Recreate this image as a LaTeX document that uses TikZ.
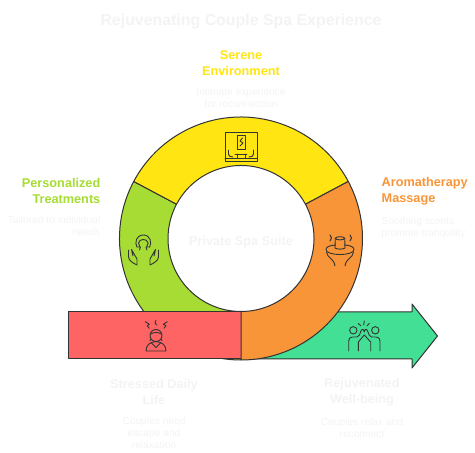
\documentclass[tikz,border=0pt]{standalone}
\usepackage{fontspec}
\setmainfont{Liberation Sans}
\usetikzlibrary{positioning}
\definecolor{amareloSerene}{RGB}{255,229,17}
\definecolor{verdeTreat}{RGB}{166,220,51}
\definecolor{laranjaAroma}{RGB}{248,149,56}
\definecolor{vermelhoStress}{RGB}{255,100,100}
\definecolor{verdeWell}{RGB}{67,223,148}
\definecolor{linhaEscura}{RGB}{51,51,51}
\definecolor{textoClaro}{RGB}{243,243,243}
\newcommand{\ringseg}[3]{%
    \draw[seg, fill=#3] (#1:121.5pt) arc[start angle=#1, end angle=#2, radius=121.5pt]
        -- (#2:73pt) arc[start angle=#2, end angle=#1, radius=73pt] -- cycle;}

\begin{document}
\begin{tikzpicture}[
    x=1pt, y=1pt,
    seg/.style={draw=linhaEscura, line width=1pt, line join=round},
    icon/.style={draw=linhaEscura, line width=0.9pt, line cap=round, line join=round},
    flip/.style={shift={(0,453)}, yscale=-1},
    title/.style={inner sep=0pt, font=\fontsize{15.9}{20}\selectfont\bfseries, text=textoClaro},
    head/.style={inner sep=0pt, align=#1, font=\fontsize{12.7}{16}\selectfont\bfseries},
    desc/.style={inner sep=0pt, align=#1, font=\fontsize{10.2}{12}\selectfont, text=textoClaro}
]
    \useasboundingbox (0,0) rectangle (475,453);

    % Seta e barra
    \draw[seg, fill=verdeWell] (241,141) -- (412,141) -- (412,149) -- (437.5,117) -- (412,85) -- (412,94) -- (241,94) -- cycle;
    \begin{scope}[shift={(241,214.5)}]
        \ringseg{152}{270}{verdeTreat}
        \ringseg{28}{152}{amareloSerene}
    \end{scope}
    \draw[seg, fill=vermelhoStress] (68.5,94) rectangle (241,141);
    \begin{scope}[shift={(241,214.5)}]
        \ringseg{-90}{28}{laranjaAroma}
    \end{scope}

    % Textos
    \node[title] (titulo) at (241,431.5) {Rejuvenating Couple Spa Experience};
    \node[inner sep=0pt, font=\fontsize{12.7}{15}\selectfont\bfseries, text=textoClaro] (suite) at (241,210.5) {Private Spa Suite};

    \node[head=center, text=amareloSerene] (serene) at (241,390) {Serene\\Environment};
    \node[desc=center, below=12pt of serene] (sereneDesc) {Intimate experience\\for reconnection};

    \node[head=right, text=verdeTreat, anchor=east] (treat) at (100.5,262) {Personalized\\Treatments};
    \node[desc=right, below=12pt of treat.south east, anchor=north east] (treatDesc) {Tailored to individual\\needs};

    \node[head=left, text=laranjaAroma, anchor=west] (aroma) at (381.5,262) {Aromatherapy\\Massage};
    \node[desc=left, below=12pt of aroma.south west, anchor=north west] (aromaDesc) {Soothing scents\\promote tranquility};

    \node[head=center, text=textoClaro] (stress) at (154,61) {Stressed Daily\\Life};
    \node[desc=center, below=12pt of stress] (stressDesc) {Couples need\\escape and\\relaxation};

    \node[head=center, text=textoClaro] (well) at (362,61) {Rejuvenated\\Well-being};
    \node[desc=center, below=12pt of well] (wellDesc) {Couples relax and\\reconnect};

    % Icones
    \begin{scope}[flip]
        % quadro e banco
        \draw[icon] (225,132.5) rectangle (257,161);
        \draw[icon] (225,158) -- (257,158);
        \draw[icon] (237,135) rectangle (245.5,149);
        \draw[icon] (242.5,138) -- (240,141) -- (243,143) -- (240,146);
        \draw[icon] (228.5,150) -- (228.5,154) .. controls (228.5,156) and (230,157) .. (233,157);
        \draw[icon] (253.5,150) -- (253.5,154) .. controls (253.5,156) and (252,157) .. (249,157);
        \draw[icon] (235,154) -- (247,154);
        \draw[icon] (237,154) -- (237,158);
        \draw[icon] (245,154) -- (245,158);

        % cabeca e maos
        \draw[icon] (137,247) .. controls (134.5,243) and (136,235) .. (143.3,235) .. controls (150.6,235) and (152,243) .. (149.6,247);
        \draw[icon] (137,247) -- (140,247) -- (138.5,243) .. controls (139,240.5) and (141,239.5) .. (143.3,239.5) .. controls (145.6,239.5) and (147.6,240.5) .. (148.1,243) -- (146.6,247) -- (149.6,247);
        \draw[icon] (140.5,247) -- (139.5,250);
        \draw[icon] (146,247) -- (147,250);
        \draw[icon] (128.5,250) -- (128.5,257) .. controls (129,261) and (133,263) .. (137,265) -- (137,259) -- (131.5,249.5) -- (133,256);
        \draw[icon] (158.5,250) -- (158.5,257) .. controls (158,261) and (154,263) .. (150,265) -- (150,259) -- (155.5,249.5) -- (154,256);

        % tigela de aromas
        \draw[icon] (340,238.3) ellipse[x radius=4.7pt, y radius=1.6pt];
        \draw[icon] (335.3,238.3) -- (335,248);
        \draw[icon] (344.7,238.3) -- (345,248);
        \draw[icon] (335,248) .. controls (337,249.5) and (343,249.5) .. (345,248);
        \draw[icon] (335.5,245) .. controls (329,245.5) and (326,247) .. (326,249.5) .. controls (326,252.5) and (332,254.5) .. (340,254.5) .. controls (348,254.5) and (354,252.5) .. (354,249.5) .. controls (354,247) and (351,245.5) .. (344.5,245);
        \draw[icon] (326.5,252) .. controls (327,258) and (334,258) .. (335,266);
        \draw[icon] (353.5,252) .. controls (353,258) and (346,258) .. (345,266);
        \draw[icon] (330,235) -- (331.5,238) -- (330,241);
        \draw[icon] (350,235) -- (351.5,238) -- (350,241);

        % pessoa estressada
        \draw[icon] (156,335.5) circle[radius=6pt];
        \draw[icon] (150.5,339.5) -- (150,341);
        \draw[icon] (161.5,339.5) -- (162,341);
        \draw[icon] (151,334) .. controls (153,332) and (159,332) .. (161,334);
        \draw[icon] (146,351) .. controls (146,345) and (150,342) .. (156,341.5) .. controls (162,342) and (166,345) .. (166,351) -- cycle;
        \draw[icon] (151.5,343) -- (156,347.5) -- (160.5,343);
        \draw[icon] (145.3,321.7) -- (149.3,324.3) -- (147.3,325.7) -- (149.3,328.3);
        \draw[icon] (156,320.3) -- (155,323) -- (156.7,325);
        \draw[icon] (167.3,321.7) -- (163.3,324.3) -- (166,325.7) -- (164,328.3);

        % duas pessoas
        \draw[icon] (353.3,330.3) circle[radius=3.7pt];
        \draw[icon] (375.3,330.3) circle[radius=3.7pt];
        \draw[icon] (348.7,351) -- (348.7,341) .. controls (348.7,338.5) and (350,337) .. (352.5,337) -- (357,337) .. controls (359,337) and (360,334) .. (361,331) .. controls (362,328.5) and (364,329) .. (364.3,332) .. controls (364.6,329) and (366.6,328.5) .. (367.6,331) .. controls (368.6,334) and (369.6,337) .. (371.6,337) -- (376,337) .. controls (378.6,337) and (380,338.5) .. (380,341) -- (380,351);
        \draw[icon] (358.3,351) -- (358.3,342) -- (364.3,335) -- (370.7,342) -- (370.7,351);
        \draw[icon] (364.3,321) -- (363.7,325);
        \draw[icon] (358.3,323.5) -- (360.7,325.7);
        \draw[icon] (369.3,323.5) -- (367,325.7);
    \end{scope}
\end{tikzpicture}
\end{document}
